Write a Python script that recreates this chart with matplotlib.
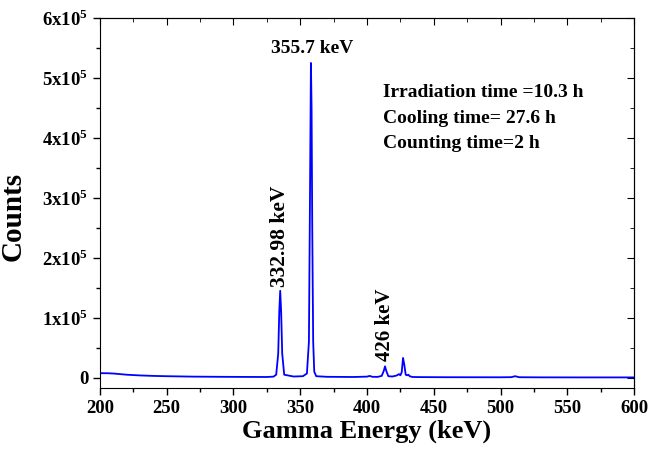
import matplotlib
matplotlib.use("Agg")
import matplotlib.pyplot as plt
from matplotlib.ticker import MultipleLocator, FuncFormatter

# Spectrum points (energy in keV, counts)
energy = [200, 205, 210, 215, 220, 230, 240, 250, 270, 290, 310, 325, 330,
          332, 333.5, 334.3, 335, 335.7, 336.5, 338, 345, 352, 355, 356.5,
          357.3, 358, 358.5, 359, 359.7, 360.5, 362, 370, 390, 400, 402, 404,
          408, 411, 412.5, 413.5, 414.5, 416, 419, 422, 424, 425, 426, 427,
          428, 429, 430, 431, 432, 434, 440, 460, 500, 508, 511, 514, 530,
          560, 600]
counts = [7500, 7500, 7000, 6000, 5000, 3800, 3000, 2500, 1800, 1500, 1300,
          1200, 1800, 5000, 40000, 110000, 145000, 110000, 40000, 5000, 2000,
          2500, 7000, 60000, 300000, 525000, 450000, 250000, 60000, 10000,
          2500, 1500, 1200, 1800, 3000, 1500, 1400, 3000, 11000, 19000, 11000,
          2500, 2000, 3500, 6000, 4000, 9000, 33000, 21000, 5000, 4000,
          5000, 2500, 1200, 1000, 800, 700, 900, 2500, 800, 600, 500,
          500]

peak_labels = ["355.7 keV", "332.98 keV", "426 keV"]
info_lines = ["Irradiation time =10.3 h", "Cooling time= 27.6 h",
              "Counting time=2 h"]

plt.rcParams["font.family"] = "Liberation Serif"
plt.rcParams["font.weight"] = "bold"
plt.rcParams["mathtext.fontset"] = "custom"
plt.rcParams["mathtext.rm"] = "Liberation Serif:bold"
plt.rcParams["mathtext.bf"] = "Liberation Serif:bold"

fig = plt.figure(figsize=(6.5, 4.5), dpi=100)
ax = fig.add_axes([0.1538, 0.138, 0.8216, 0.822])

ax.plot(energy, counts, color="blue", linewidth=1.3)

ax.set_xlim(200, 600)
ax.set_ylim(-17000, 600000)
ax.xaxis.set_major_locator(MultipleLocator(50))
ax.xaxis.set_minor_locator(MultipleLocator(25))
ax.yaxis.set_major_locator(MultipleLocator(100000))
ax.yaxis.set_minor_locator(MultipleLocator(50000))


def yfmt(v, pos):
    n = int(round(v / 100000))
    if n == 0:
        return "0"
    return r"%dx10$^{5}$" % n


ax.yaxis.set_major_formatter(FuncFormatter(yfmt))

ax.tick_params(axis="both", which="both", labelsize=13.5, width=1,
               direction="out")
ax.tick_params(which="major", length=5)
ax.tick_params(which="minor", length=3)

# inward ticks on top and right spines
sec_top = ax.secondary_xaxis("top")
sec_top.xaxis.set_major_locator(MultipleLocator(50))
sec_top.xaxis.set_minor_locator(MultipleLocator(25))
sec_top.tick_params(which="both", direction="in", labeltop=False)
sec_top.tick_params(which="major", length=5)
sec_top.tick_params(which="minor", length=3)
sec_right = ax.secondary_yaxis("right")
sec_right.yaxis.set_major_locator(MultipleLocator(100000))
sec_right.yaxis.set_minor_locator(MultipleLocator(50000))
sec_right.tick_params(which="both", direction="in", labelright=False)
sec_right.tick_params(which="major", length=5)
sec_right.tick_params(which="minor", length=3)

ax.set_xlabel("Gamma Energy (keV)", fontsize=19, fontweight="bold",
              labelpad=2)
ax.set_ylabel("Counts", fontsize=21, fontweight="bold")
ax.yaxis.set_label_coords(-0.138, 0.463)

ax.text(359, 541000, peak_labels[0], fontsize=14, fontweight="bold",
        ha="center", va="baseline")
ax.text(335, 152000, peak_labels[1], fontsize=15.5, fontweight="bold",
        ha="center", va="bottom", rotation=90)
ax.text(413.5, 28000, peak_labels[2], fontsize=15, fontweight="bold",
        ha="center", va="bottom", rotation=90)

for i, line in enumerate(info_lines):
    ax.text(412, 475000 - i * 42000, line, fontsize=14, fontweight="bold",
            ha="left", va="center")

fig.savefig("out.png", dpi=100)
